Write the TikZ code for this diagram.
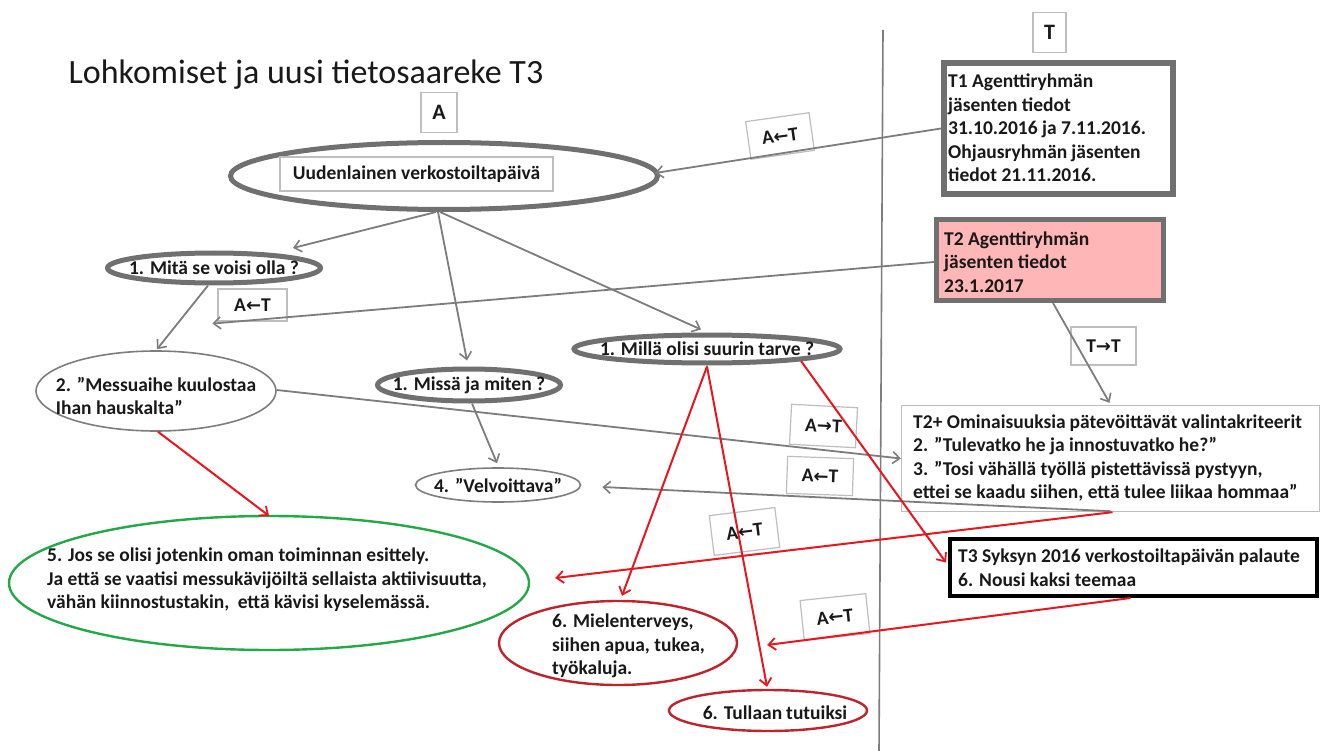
\documentclass[tikz,border=0pt]{standalone}
\usepackage{fontspec}
\setmainfont{Carlito}
\newfontfamily\symfont{DejaVu Sans}
\usetikzlibrary{arrows.meta,calc,shapes.geometric}

\definecolor{lineGray}{RGB}{125,125,125}
\definecolor{rimGray}{RGB}{112,112,112}
\definecolor{boxGray}{RGB}{190,190,190}
\definecolor{arrRed}{RGB}{232,22,30}
\definecolor{rimRed}{RGB}{190,36,44}
\definecolor{rimGreen}{RGB}{36,168,72}
\definecolor{pinkFill}{RGB}{255,182,182}
\definecolor{inkBlack}{RGB}{25,25,25}

\newcommand{\lArr}{{\symfont\bfseries\fontsize{18}{18}\selectfont ←}}
\newcommand{\rArr}{{\symfont\bfseries\fontsize{18}{18}\selectfont →}}
\newcommand{\wsp}{\hskip 4pt\relax}

\tikzset{
  body/.style={font=\fontsize{19.5}{23.5}\selectfont\bfseries, text=inkBlack},
  txt/.style={inner sep=0pt, body, align=left},
  bigoval/.style={ellipse, draw=rimGray, line width=5pt, inner sep=0pt},
  thinoval/.style={ellipse, draw=lineGray, line width=1.6pt, inner sep=0pt},
  redoval/.style={ellipse, draw=rimRed, line width=2.4pt, inner sep=0pt},
  greenoval/.style={ellipse, draw=rimGreen, line width=2.4pt, inner sep=0pt},
  tag/.style={rectangle, draw=boxGray, line width=1.2pt, fill=white, inner sep=0pt, body},
  infobox/.style={rectangle, inner sep=0pt},
  garrow/.style={draw=lineGray, line width=1.8pt, -{Straight Barb[length=7pt,width=12pt,line width=1.6pt]}},
  rarrow/.style={draw=arrRed, line width=2pt, -{Straight Barb[length=7pt,width=12pt,line width=1.8pt]}},
}

\begin{document}
\begin{tikzpicture}[x=1pt,y=-1pt]
\useasboundingbox[fill=white] (0,0) rectangle (1322,751);

% divider between the A side and the T side
\draw[draw=lineGray, line width=1.6pt] (883,30) -- (879,751);

% title and column headings
\node[font=\fontsize{34}{40}\selectfont, text=inkBlack] (title) at (306,75) {Lohkomiset ja uusi tietosaareke T3};
\node[tag, minimum width=36pt, minimum height=40pt, font=\fontsize{22}{22}\selectfont\bfseries] (hA) at (439,112.5) {A};
\node[tag, minimum width=33pt, minimum height=40pt, font=\fontsize{22}{22}\selectfont\bfseries] (hT) at (1049.5,32.5) {T};

% A side: ovals (outline) with their texts
\node[bigoval, minimum width=427pt, minimum height=67pt] (e0) at (444,176) {};
\node[tag, minimum width=273pt, minimum height=34pt] (e0lbl) at (416.5,174) {Uudenlainen verkostoiltapäivä};

\node[bigoval, minimum width=213pt, minimum height=30pt] (mita) at (214,268) {};
\node[txt] (mitaT) at (mita.center) {1. Mitä se voisi olla ?};

\node[bigoval, minimum width=183pt, minimum height=32pt] (missa) at (469,385) {};
\node[txt] (missaT) at (missa.center) {1. Missä ja miten ?};

\node[bigoval, minimum width=266pt, minimum height=28pt] (milla) at (707,349) {};
\node[txt] (millaT) at (milla.center) {1. Millä olisi suurin\wsp tarve ?};

\node[thinoval, minimum width=240pt, minimum height=80pt] (mess) at (156,391) {};
\node[txt] (messT) at ($(mess.center)+(0,5)$) {2. ”Messuaihe kuulostaa\\Ihan hauskalta”};

\node[thinoval, minimum width=165pt, minimum height=34pt] (velv) at (498,485) {};
\node[txt] (velvT) at (velv.center) {4. ”Velvoittava”};

\node[greenoval, minimum width=520pt, minimum height=134pt] (e5) at (269,583) {};
\node[txt, anchor=west] (e5T) at (47,580)
  {5. Jos se olisi jotenkin oman toiminnan esittely.\\Ja että se vaatisi messukävijöiltä\wsp sellaista aktiivisuutta,\\vähän kiinnostustakin,\wsp\ että kävisi kyselemässä.};

\node[redoval, minimum width=238pt, minimum height=84pt] (e6a) at (618,643) {};
\node[txt, anchor=west] (e6aT) at (552,646) {6. Mielenterveys,\\siihen apua, tukea,\\työkaluja.};

\node[redoval, minimum width=198pt, minimum height=41pt] (e6b) at (768,710.5) {};
\node[txt] (e6bT) at ($(e6b.center)+(7,2)$) {6. Tullaan\wsp tutuiksi};

% T side: information boxes with their texts
\node[infobox, draw=rimGray, line width=6pt, minimum width=229pt, minimum height=131pt] (t1) at (1058.5,128.5) {};
\node[txt, anchor=west] (t1T) at (948,128)
  {T1 Agenttiryhmän\\jäsenten tiedot\\31.10.2016 ja 7.11.2016.\\Ohjausryhmän\wsp jäsenten\\tiedot 21.11.2016.};

\node[infobox, draw=rimGray, fill=pinkFill, line width=5pt, minimum width=227pt, minimum height=81pt] (t2) at (1050,260) {};
\node[txt, anchor=west] (t2T) at (944,262) {T2 Agenttiryhmän\\jäsenten tiedot\\23.1.2017};

\node[infobox, draw=boxGray, line width=1.4pt, minimum width=418pt, minimum height=106pt] (t2p) at (1110.5,458.5) {};
\node[txt, anchor=west] (t2pT) at (913,458)
  {T2+ Ominaisuuksia\wsp pätevöittävät valintakriteerit\\2. ”Tulevatko he ja innostuvatko he?”\\3. ”Tosi vähällä työllä pistettävissä\wsp pystyyn,\\ettei se kaadu siihen, että tulee liikaa hommaa”};

\node[infobox, draw=black, line width=4pt, minimum width=367pt, minimum height=57pt] (t3) at (1133.5,567.5) {};
\node[txt, anchor=west] (t3T) at (958,567.5) {T3 Syksyn 2016 verkostoiltapäivän\wsp palaute\\6. Nousi kaksi teemaa};

% direction tags on the connectors
\node[tag, minimum width=64pt, minimum height=38pt, rotate=8] (lab1) at (780,136) {A\lArr T};
\node[tag, minimum width=69pt, minimum height=32pt] (lab2) at (252.5,305) {A\lArr T};
\node[tag, minimum width=65pt, minimum height=38pt] (lab3) at (1103.5,346) {T\rArr T};
\node[tag, minimum width=66pt, minimum height=40pt, rotate=-3] (lab4) at (823.5,426) {A\rArr T};
\node[tag, minimum width=66pt, minimum height=37pt, rotate=-2] (lab5) at (820,476) {A\lArr T};
\node[tag, minimum width=66pt, minimum height=40pt, rotate=7] (lab6) at (744.5,531.5) {A\lArr T};
\node[tag, minimum width=66pt, minimum height=40pt, rotate=6] (lab7) at (835,617) {A\lArr T};

% grey connectors
\draw[garrow] (t1.west) -- ($(e0.center)+(211,-3)$);
\draw[garrow] ($(e0.center)+(-8,36)$) -- ($(mita.center)+(79,-20)$);
\draw[garrow] ($(e0.center)+(-6,36)$) -- ($(missa.north)+(-2,-6)$);
\draw[garrow] ($(e0.center)+(-4,36)$) -- ($(milla.north)+(-6,-3)$);
\draw[garrow] ($(t2.west)+(0,2)$) -- ($(lab2.south west)+(-5,2)$);
\draw[garrow] ($(mita.south)+(-6,0)$) -- ($(mess.north)+(1,-1)$);
\draw[garrow] ($(missa.south)+(3,0)$) -- ($(velv.north)+(-1,-4)$);
\draw[garrow] ($(mess.east)+(0,-1)$) -- (t2p.west);
\draw[garrow] ($(t2p.south)+(0,-1)$) -- ($(velv.east)+(21,2)$);
\draw[garrow] ($(t2.south)+(3,0)$) -- ($(t2p.north)+(-1,-2)$);

% red connectors
\draw[rarrow] ($(mess.south)+(2,0)$) -- ($(e5.north)+(0,1)$);
\draw[rarrow] ($(milla.south)+(0,1)$) -- ($(e6a.north)+(4,-4)$);
\draw[rarrow] ($(milla.south)+(0,1)$) -- ($(e6b.north)+(-1,-2)$);
\draw[rarrow] ($(milla.center)+(94,12)$) -- ($(t3.west)+(-2,-5)$);
\draw[rarrow] ($(t2p.south)+(2,0)$) -- ($(e5.east)+(25,-5)$);
\draw[rarrow] ($(t3.south)+(-3,0)$) -- ($(e6a.east)+(29,2)$);
\end{tikzpicture}
\end{document}
